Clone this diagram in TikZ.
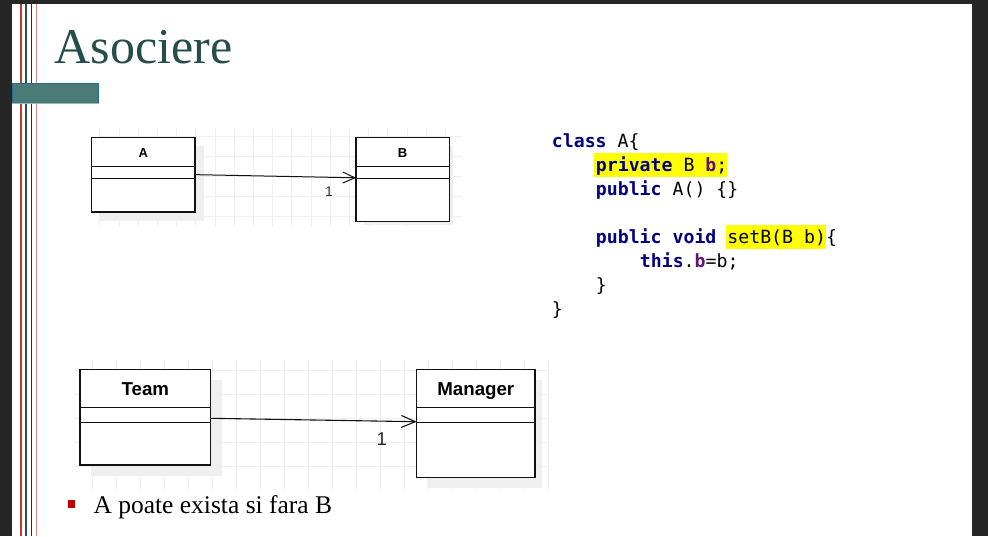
\documentclass[tikz,border=0pt]{standalone}
\usepackage{fontspec}
\setmainfont{Liberation Serif}
\setsansfont{Liberation Sans}
\setmonofont{DejaVu Sans Mono}
\usetikzlibrary{arrows.meta,calc}
\definecolor{bgdark}{HTML}{262626}
\definecolor{titleteal}{HTML}{254D4B}
\definecolor{barfill}{HTML}{4B7B77}
\definecolor{barline}{HTML}{1F6F8B}
\definecolor{vred}{HTML}{C0392B}
\definecolor{vslate}{HTML}{2F4F4F}
\definecolor{vdred}{HTML}{9A0000}
\definecolor{vpink}{HTML}{EE8080}
\definecolor{gridc}{HTML}{F0F0F0}
\definecolor{shadowc}{HTML}{EFEFEF}
\definecolor{boxline}{HTML}{111111}
\definecolor{kwblue}{HTML}{000080}
\definecolor{fldpurple}{HTML}{660E7A}
\definecolor{hlyellow}{HTML}{FFFF00}
\definecolor{bulletred}{HTML}{C00000}
\newcommand\codekw[1]{\textcolor{kwblue}{\textbf{#1}}}
\newcommand\codefld[1]{\textcolor{fldpurple}{\textbf{#1}}}
\begin{document}
\begin{tikzpicture}[x=1pt,y=-1pt,
  gridline/.style={draw=gridc, line width=0.7pt},
  shadowbox/.style={fill=shadowc, draw=none},
  umlbox/.style={draw=boxline, line width=1.2pt, fill=white, inner sep=0pt, outer sep=0pt, anchor=north west},
  compline/.style={draw=boxline, line width=1.2pt},
  hdrsmall/.style={font=\fontsize{13}{14}\selectfont\sffamily\bfseries, inner sep=0pt, anchor=base},
  hdrbig/.style={font=\fontsize{18.7}{20}\selectfont\sffamily\bfseries, inner sep=0pt, anchor=base},
  assoc/.style={draw=boxline, line width=1pt, -{Straight Barb[length=12pt,width=11pt,line width=1pt]}},
  assocbig/.style={draw=boxline, line width=1.1pt, -{Straight Barb[length=14pt,width=12pt,line width=1.1pt]}},
  multsmall/.style={font=\fontsize{14}{14}\selectfont\sffamily, text=black!80, inner sep=0pt},
  multbig/.style={font=\fontsize{18.6}{18}\selectfont\sffamily, text=black!85, inner sep=0pt},
  codeline/.style={anchor=base west, inner sep=0pt, font=\fontsize{18.2}{24}\selectfont\ttfamily},
  vline/.style={line width=1.6pt}
]
\useasboundingbox (0,0) rectangle (988,536);
% background
\fill[bgdark] (0,0) rectangle (988,536);
\fill[white] (12,4) rectangle (971.7,536);
% left vertical lines
\draw[vline, vred] (20.8,4) -- (20.8,536);
\draw[vline, vslate] (26,4) -- (26,536);
\draw[vline, vdred] (31.3,4) -- (31.3,536);
\draw[vline, vpink] (36.5,4) -- (36.5,536);
% teal bar
\draw[fill=barfill, draw=barline, line width=1pt] (12,83.5) rectangle (98.8,103);
\draw[draw=barline!50, line width=1pt] (12,103.6) -- (98.8,103.6);
% title
\node[anchor=base west, inner sep=0pt, text=titleteal, font=\fontsize{50}{50}\selectfont] (title) at (54.5,63.3) {Asociere};

% ---------- first diagram ----------
\begin{scope}
\clip (99,128) rectangle (462,226);
\draw[gridline] \foreach \i in {0,...,19} {(99.8+19.2*\i,128) -- (99.8+19.2*\i,226)};
\draw[gridline] \foreach \j in {0,...,4} {(99,136+20*\j) -- (462,136+20*\j)};
\end{scope}
\fill[shadowbox] (100,146) rectangle (203.5,220.5);
\fill[shadowbox] (364,146) rectangle (453,224.5);
\node[umlbox, minimum width=103.3pt, minimum height=74.7pt] (A) at (91.7,137.3) {};
\draw[compline] (91.7,166.7) -- (195,166.7);
\draw[compline] (91.7,178.3) -- (195,178.3);
\node[hdrsmall] (Aname) at (143.3,157.3) {A};
\node[umlbox, minimum width=93.3pt, minimum height=84.4pt] (B) at (356,137.3) {};
\draw[compline] (356,166.7) -- (449.3,166.7);
\draw[compline] (356,178.3) -- (449.3,178.3);
\node[hdrsmall] (Bname) at (402.6,157.3) {B};
\coordinate (Bin) at (356,177.8);
\draw[assoc] (A.east) -- (Bin);
\node[multsmall] (m1) at (329,191.7) {1};

% ---------- code ----------
\fill[hlyellow] (594.3,153.3) rectangle (727.3,176.7);
\fill[hlyellow] (726,225) rectangle (826,249);
\node[codeline] (c1) at (551.7,147.7) {\codekw{class} A\{};
\node[codeline] (c2) at (595.7,171.7) {\codekw{private} B \codefld{b};};
\node[codeline] (c3) at (595.7,195.7) {\codekw{public} A() \{\}};
\node[codeline] (c4) at (595.7,243.7) {\codekw{public} \codekw{void} setB(B b)\{};
\node[codeline] (c5) at (639.7,267.7) {\codekw{this}.\codefld{b}=b;};
\node[codeline] (c6) at (595.7,291.7) {\}};
\node[codeline] (c7) at (551.7,315.7) {\}};

% ---------- second diagram ----------
\begin{scope}
\clip (75,360) rectangle (550,490);
\draw[gridline] \foreach \i in {0,...,19} {(92.7+24*\i,360) -- (92.7+24*\i,490)};
\draw[gridline] \foreach \j in {0,...,4} {(75,370.3+24*\j) -- (550,370.3+24*\j)};
\end{scope}
\fill[shadowbox] (90.7,380) rectangle (221.7,475.7);
\fill[shadowbox] (426.7,380) rectangle (541.7,488);
\node[umlbox, minimum width=130.7pt, minimum height=95.7pt] (T) at (80,369.3) {};
\draw[compline] (80,407.3) -- (210.7,407.3);
\draw[compline] (80,422.7) -- (210.7,422.7);
\node[hdrbig] (Tname) at (145.3,395.7) {Team};
\node[umlbox, minimum width=118.3pt, minimum height=108pt] (M) at (416.7,369.3) {};
\draw[compline] (416.7,407.3) -- (535,407.3);
\draw[compline] (416.7,422.7) -- (535,422.7);
\node[hdrbig] (Mname) at (475.8,395.7) {Manager};
\coordinate (Tout) at (210.7,418.3);
\coordinate (Min) at (416.7,421.7);
\draw[assocbig] (Tout) -- (Min);
\node[multbig] (m2) at (381.7,439.5) {1};

% ---------- bullet ----------
\fill[bulletred] (67.7,500) rectangle (75,507.7);
\node[anchor=base west, inner sep=0pt, font=\fontsize{25.5}{28}\selectfont] (bullet) at (93.3,513.3) {A poate exista si fara B};
\end{tikzpicture}
\end{document}
